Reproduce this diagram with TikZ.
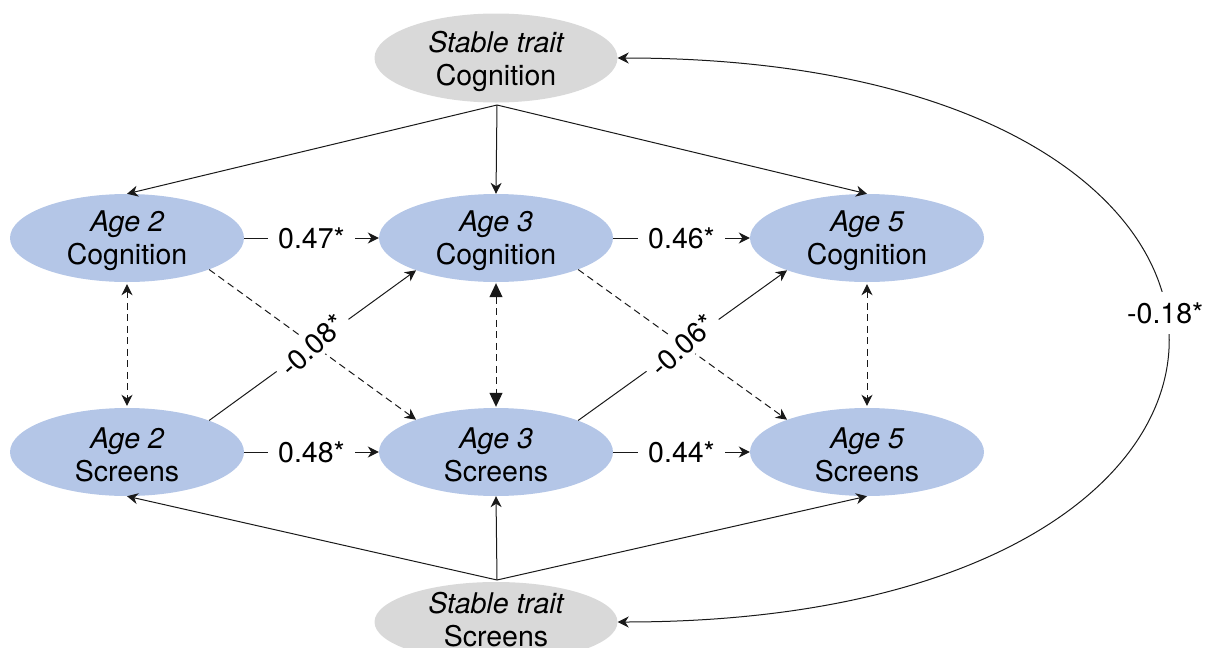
\documentclass[tikz,border=0pt]{standalone}
\usepackage{fontspec}
\setmainfont{TeX Gyre Heros}
\usetikzlibrary{arrows.meta,shapes.geometric}
\definecolor{ageblue}{RGB}{180,198,231}
\definecolor{traitgray}{RGB}{217,217,217}
\begin{document}
\begin{tikzpicture}[x=1pt,y=-1pt,
  font=\fontsize{28.5}{33}\selectfont,
  age/.style={ellipse, fill=ageblue, minimum width=234pt, minimum height=88pt, inner sep=0pt},
  trait/.style={ellipse, fill=traitgray, minimum width=243pt, minimum height=89pt, inner sep=0pt},
  txt/.style={label={[align=center, yshift=-3pt]center:#1}},
  tip/.tip={Stealth[length=11pt,width=11pt,inset=3.5pt]},
  conn/.style={line width=1pt, draw=black!90, -tip},
  dconn/.style={conn, dash pattern=on 7pt off 4.5pt},
  dbl/.style={line width=1pt, draw=black!90, tip-tip, dash pattern=on 7pt off 4.5pt, shorten >=2pt, shorten <=2pt},
  dblfill/.style={line width=1pt, draw=black!90, {Triangle[length=14pt,width=13pt]}-{Triangle[length=14pt,width=13pt]}, dash pattern=on 7pt off 4.5pt, shorten >=1pt, shorten <=1pt},
  curv/.style={line width=1pt, draw=black!90, tip-tip},
  lab/.style={fill=white, inner xsep=10pt, inner ysep=4pt}
]
\useasboundingbox (0,0) rectangle (1205,648);

\node[trait, txt={{\itshape Stable trait}\\Cognition}] (stc) at (496,58) {};
\node[trait, minimum height=80pt, label={[align=center, yshift=2pt]center:{{\itshape Stable trait}\\Screens}}] (sts) at (496,622) {};

\node[age, txt={{\itshape Age 2}\\Cognition}] (a2c) at (127,238) {};
\node[age, txt={{\itshape Age 3}\\Cognition}] (a3c) at (496,238) {};
\node[age, txt={{\itshape Age 5}\\Cognition}] (a5c) at (867,238) {};
\node[age, txt={{\itshape Age 2}\\Screens}] (a2s) at (127,452) {};
\node[age, txt={{\itshape Age 3}\\Screens}] (a3s) at (496,452) {};
\node[age, txt={{\itshape Age 5}\\Screens}] (a5s) at (867,452) {};

\coordinate (ta) at (497,105);
\coordinate (ba) at (497,580);

% stable trait paths
\draw[conn] (ta) -- (a2c.north);
\draw[conn] (ta) -- (a3c.north);
\draw[conn] (ta) -- (a5c.north);
\draw[conn] (ba) -- (a2s.south);
\draw[conn] (ba) -- (a3s.south);
\draw[conn] (ba) -- (a5s.south);

% autoregressive paths
\draw[conn] (a2c) -- node[lab]{0.47*} (a3c);
\draw[conn] (a3c) -- node[lab]{0.46*} (a5c);
\draw[conn] (a2s) -- node[lab]{0.48*} (a3s);
\draw[conn] (a3s) -- node[lab]{0.44*} (a5s);

% cross-lagged paths
\draw[dconn] (a2c.-21) -- (a3s.158);
\draw[conn] (a2s.21) -- node[lab, inner xsep=6pt, rotate=42]{-0.08*} (a3c.-158);
\draw[dconn] (a3c.-21) -- (a5s.158);
\draw[conn] (a3s.21) -- node[lab, inner xsep=6pt, rotate=42]{-0.06*} (a5c.-158);

% within-time covariances
\draw[dbl] (a2c) -- (a2s);
\draw[dblfill] (a3c) -- (a3s);
\draw[dbl] (a5c) -- (a5s);

% stable trait covariance
\draw[curv] (stc.east) .. controls +(733,0) and +(733,0) .. node[pos=0.468, fill=white, inner xsep=2pt, inner ysep=10pt]{-0.18*} (sts.east);
\end{tikzpicture}
\end{document}
